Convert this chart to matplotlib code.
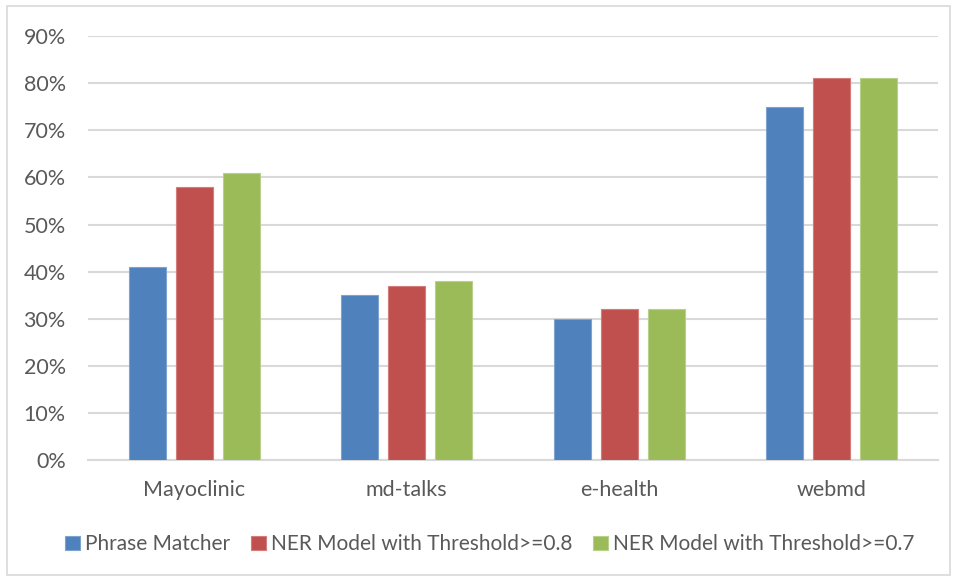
import numpy as np
import matplotlib
matplotlib.use("Agg")
import matplotlib.pyplot as plt
from matplotlib.patches import Rectangle
from matplotlib.ticker import PercentFormatter

categories = ["Mayoclinic", "md-talks", "e-health", "webmd"]
series_names = [
    "Phrase Matcher",
    "NER Model with Threshold>=0.8",
    "NER Model with Threshold>=0.7",
]
phrase_matcher = [0.41, 0.35, 0.30, 0.75]
ner_08 = [0.58, 0.37, 0.32, 0.81]
ner_07 = [0.61, 0.38, 0.32, 0.81]
y_ticks = [0.0, 0.1, 0.2, 0.3, 0.4, 0.5, 0.6, 0.7, 0.8, 0.9]

colors = ["#4F81BD", "#C0504D", "#9BBB59"]
edges = ["#7FA3D1", "#D47C7A", "#B8D08A"]

plt.rcParams["font.family"] = ["Lato", "DejaVu Sans"]

fig = plt.figure(figsize=(9.57, 5.81), dpi=100)
ax = fig.add_axes([0.092, 0.208, 0.888, 0.730])

x = np.arange(len(categories))
width = 0.174
step = 0.221
for i, (vals, name) in enumerate(zip([phrase_matcher, ner_08, ner_07], series_names)):
    ax.bar(x + (i - 1) * step, vals, width, color=colors[i], edgecolor=edges[i],
           linewidth=0.8, label=name, zorder=3)

ax.set_xlim(-0.5, len(categories) - 0.5)
ax.set_ylim(0, 0.9)
ax.set_yticks(y_ticks)
ax.yaxis.set_major_formatter(PercentFormatter(1.0, decimals=0))
ax.set_xticks(x)
ax.set_xticklabels(categories)
ax.tick_params(axis="both", length=0, labelsize=15.5, colors="#595959")
ax.tick_params(axis="y", pad=16)
ax.tick_params(axis="x", pad=14)
ax.grid(axis="y", color="#D9D9D9", linewidth=1.5, zorder=0)
for s in ["top", "right", "left"]:
    ax.spines[s].set_visible(False)
ax.spines["bottom"].set_color("#D9D9D9")
ax.spines["bottom"].set_linewidth(1.5)

leg = fig.legend(loc="center", bbox_to_anchor=(0.512, 0.063), ncol=3, frameon=False,
                 fontsize=15, handlelength=0.7, handleheight=0.7,
                 handletextpad=0.25, columnspacing=1.0)
for t in leg.get_texts():
    t.set_color("#595959")

fig.patches.append(Rectangle((7 / 957, 6 / 581), 943 / 957, 569 / 581,
                             transform=fig.transFigure, fill=False,
                             edgecolor="#D9D9D9", linewidth=1.2))

fig.savefig("out.png", dpi=100)
